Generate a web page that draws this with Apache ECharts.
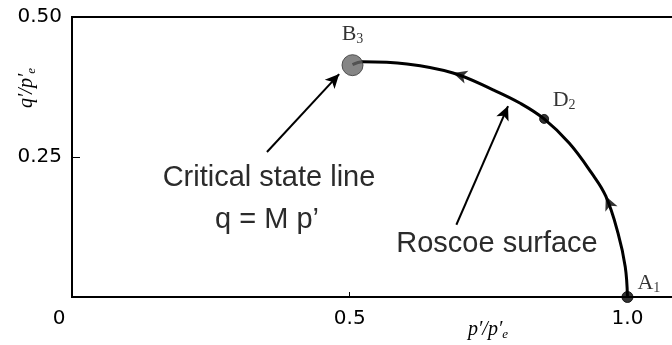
<!DOCTYPE html>
<html>
<head>
<meta charset="utf-8">
<script src="https://cdn.jsdelivr.net/npm/echarts@6/dist/echarts.min.js"></script>
<style>
  html, body { margin: 0; padding: 0; background: #fff; }
  #chart { width: 672px; height: 345px; }
</style>
</head>
<body>
<div id="chart"></div>
<script>
// Yield locus (Roscoe surface) in normalised p'/p'e – q'/p'e space
const pPath = [0.505, 0.523, 0.603, 0.686, 0.758, 0.807, 0.850, 0.895, 0.935, 0.961, 0.983, 0.996, 1.0];
const qPath = [0.415, 0.420, 0.416, 0.400, 0.370, 0.346, 0.318, 0.275, 0.222, 0.180, 0.114, 0.054, 0.0];

// Named states on the path
const stateNames = ['B', 'D', 'A'];
const stateSubs = ['3', '2', '1'];
const stateP = [0.505, 0.850, 1.0];
const stateQ = [0.414, 0.318, 0.0];

// Direction arrows along the path (indices into the path arrays)
const arrowIdx = [3, 9];

// Tick labels
const xTicks = [0, 0.5, 1.0];
const xTickLabels = ['0', '0.5', '1.0'];
const yTicks = [0, 0.25, 0.5];
const yTickLabels = ['', '0.25', '0.50'];

const chart = echarts.init(document.getElementById('chart'), null, { renderer: 'canvas' });

const curveData = pPath.map((p, i) => [p, qPath[i]]);
const tickFont = { fontFamily: 'DejaVu Sans', fontSize: 20, color: '#000' };
const serif = 'Liberation Serif';

const stateStyles = [
  { size: 21, color: '#666666', border: '#333333', offset: [0, -4], pos: 'top' },
  { size: 9, color: '#000000', border: '#000000', offset: [20, 2], pos: 'top' },
  { size: 11, color: '#000000', border: '#000000', offset: [0, -14], pos: 'right' }
];

const stateData = stateP.map((p, i) => ({
  value: [p, stateQ[i]],
  symbolSize: stateStyles[i].size,
  itemStyle: { color: stateStyles[i].color, borderColor: stateStyles[i].border, borderWidth: 1 },
  label: {
    show: true,
    position: stateStyles[i].pos,
    offset: stateStyles[i].offset,
    distance: 4,
    color: '#000',
    fontFamily: serif,
    fontSize: 22,
    formatter: stateNames[i] + '{s|' + stateSubs[i] + '}',
    rich: { s: { fontFamily: serif, fontSize: 14, padding: [10, 0, 0, 0], color: '#000' } }
  }
}));

const axisNameRich = { s: { fontFamily: serif, fontStyle: 'italic', fontSize: 13, padding: [9, 0, 0, 0], fill: '#000' } };

const option = {
  animation: false,
  backgroundColor: '#ffffff',
  grid: {
    left: 72, top: 17, width: 611, height: 280,
    outerBoundsMode: 'none',
    containLabel: false,
    show: true, borderColor: '#000', borderWidth: 2, backgroundColor: 'transparent'
  },
  xAxis: {
    type: 'value', min: 0, max: 1.1, interval: 0.5,
    axisLine: { show: true, onZero: false, lineStyle: { color: '#000', width: 2 } },
    axisTick: { show: true, inside: true, length: 5, lineStyle: { color: '#000', width: 1 } },
    splitLine: { show: false },
    axisLabel: {
      margin: 12,
      ...tickFont,
      formatter: function (v) {
        const k = xTicks.findIndex(t => Math.abs(t - v) < 1e-9);
        if (k < 0) return '';
        return k === 0 ? '{z|' + xTickLabels[k] + '}' : xTickLabels[k];
      },
      rich: { z: { ...tickFont, padding: [0, 26, 0, 0] } }
    }
  },
  yAxis: {
    type: 'value', min: 0, max: 0.5, interval: 0.25,
    axisLine: { show: true, onZero: false, lineStyle: { color: '#000', width: 2 } },
    axisTick: { show: true, inside: true, length: 8, lineStyle: { color: '#000', width: 1 } },
    splitLine: { show: false },
    axisLabel: {
      margin: 10,
      ...tickFont,
      formatter: function (v) {
        const k = yTicks.findIndex(t => Math.abs(t - v) < 1e-9);
        return k < 0 ? '' : yTickLabels[k];
      }
    }
  },
  series: [
    {
      type: 'line',
      data: curveData,
      smooth: 0.4,
      showSymbol: false,
      lineStyle: { color: '#000', width: 3 },
      z: 2,
      markLine: {
        silent: true,
        symbol: ['none', 'arrow'],
        symbolSize: [10, 14],
        label: { show: false },
        lineStyle: { color: '#000', width: 2, type: 'solid' },
        data: [
          [{ coord: [0.351, 0.259] }, { coord: [0.481, 0.398] }],
          [{ coord: [0.692, 0.129] }, { coord: [0.785, 0.341] }]
        ]
      }
    },
    {
      id: 'flow',
      type: 'scatter',
      data: arrowIdx.map(i => [pPath[i], qPath[i]]),
      symbol: 'arrow',
      symbolSize: [10, 14],
      itemStyle: { color: '#000' },
      z: 3
    },
    {
      type: 'scatter',
      data: stateData,
      z: 4
    }
  ],
  graphic: [
    {
      type: 'text',
      style: {
        x: 269, y: 178, text: 'Critical state line', align: 'center', verticalAlign: 'middle',
        fontFamily: 'Liberation Sans', fontSize: 29, fill: '#2b2b2b'
      }
    },
    {
      type: 'text',
      style: {
        x: 267, y: 220, text: 'q = M p\u2019', align: 'center', verticalAlign: 'middle',
        fontFamily: 'Liberation Sans', fontSize: 29, fill: '#2b2b2b'
      }
    },
    {
      type: 'text',
      style: {
        x: 497, y: 244, text: 'Roscoe surface', align: 'center', verticalAlign: 'middle',
        fontFamily: 'Liberation Sans', fontSize: 29, fill: '#2b2b2b'
      }
    },
    {
      type: 'text',
      style: {
        x: 488, y: 330, text: 'p\u2032/p\u2032{s|e}', align: 'center', verticalAlign: 'middle',
        fontFamily: serif, fontStyle: 'italic', fontSize: 20, fill: '#000',
        rich: axisNameRich
      }
    },
    {
      type: 'text',
      x: 27, y: 88, rotation: Math.PI / 2,
      style: {
        x: 0, y: 0, text: 'q\u2032/p\u2032{s|e}', align: 'center', verticalAlign: 'middle',
        fontFamily: serif, fontStyle: 'italic', fontSize: 20, fill: '#000',
        rich: axisNameRich
      }
    }
  ]
};

chart.setOption(option);

// Orient the flow arrows along the path tangent (pointing from A towards B)
const rotations = arrowIdx.map(i => {
  const a = chart.convertToPixel({ gridIndex: 0 }, [pPath[i + 1], qPath[i + 1]]);
  const b = chart.convertToPixel({ gridIndex: 0 }, [pPath[i - 1], qPath[i - 1]]);
  const ang = Math.atan2(-(b[1] - a[1]), b[0] - a[0]) * 180 / Math.PI;
  return ang - 90;
});
chart.setOption({
  series: [{ id: 'flow', data: arrowIdx.map((i, k) => ({ value: [pPath[i], qPath[i]], symbolRotate: rotations[k] })) }]
});
</script>
</body>
</html>
